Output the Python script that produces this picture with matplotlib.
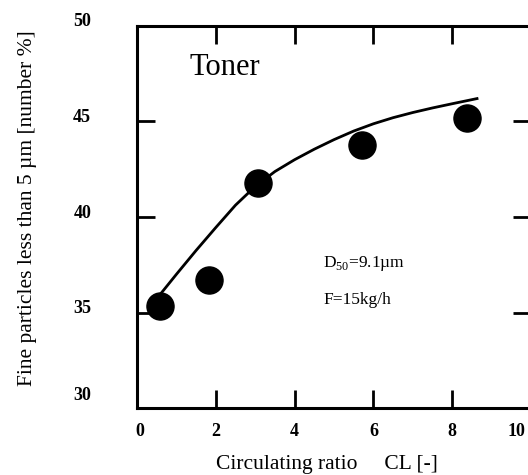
import matplotlib
matplotlib.use("Agg")
import matplotlib.pyplot as plt
import matplotlib.transforms as mtransforms

plt.rcParams['font.family'] = ['Liberation Serif', 'DejaVu Serif']
plt.rcParams['mathtext.fontset'] = 'custom'
plt.rcParams['mathtext.rm'] = 'Liberation Serif'

# measured points
cl = [0.58, 1.83, 3.07, 5.71, 8.38]
fine = [35.34, 36.70, 41.78, 43.77, 45.18]

# fitted curve
curve_x = [0.55, 1.0, 1.5, 2.0, 2.5, 3.0, 3.5, 4.0, 4.5, 5.0, 5.5, 6.0, 6.5, 7.0, 7.5, 8.0, 8.63]
curve_y = [35.85, 37.0, 38.25, 39.45, 40.62, 41.6, 42.38, 43.0, 43.55, 44.05, 44.5, 44.88,
           45.2, 45.47, 45.71, 45.93, 46.2]

xticks = [0, 2, 4, 6, 8, 10]
yticks = [30, 35, 40, 45, 50]

fig = plt.figure(figsize=(5.28, 4.75), dpi=100)
ax = fig.add_axes([137/528, (475-408)/475, 394/528, 382/475])

ax.plot(curve_x, curve_y, color='black', lw=2.0, zorder=2, solid_joinstyle='round')
ax.plot(cl, fine, 'o', color='black', markersize=19.5, zorder=3)

ax.set_xlim(0, 10)
ax.set_ylim(30, 50)
ax.set_xticks(xticks)
ax.set_yticks(yticks)
ax.set_xticklabels([str(t) for t in xticks], fontsize=13, fontweight='bold')
ax.set_yticklabels([str(t) for t in yticks], fontsize=13, fontweight='bold')
ax.tick_params(direction='in', length=13, width=2, top=True, right=True)
ax.tick_params(axis='x', pad=11)
ax.tick_params(axis='y', pad=33)
for s in ax.spines.values():
    s.set_linewidth(2.2)

# label offsets to mimic the reference
for lab in ax.get_yticklabels():
    dy = 6/100
    if lab.get_text() == '30':
        dy = 14/100
    lab.set_transform(lab.get_transform() + mtransforms.ScaledTranslation(0, dy, fig.dpi_scale_trans))
for lab in ax.get_xticklabels():
    dx = 0
    if lab.get_text() == '10':
        dx = -15/100
    elif lab.get_text() == '0':
        dx = 3/100
    lab.set_transform(lab.get_transform() + mtransforms.ScaledTranslation(dx, 0, fig.dpi_scale_trans))

ax.text(1.32, 47.43, 'Toner', fontsize=22, va='baseline', ha='left')
ax.text(4.72, 37.38, r'D$_{\mathrm{50}}$=9.1µm', fontsize=12.5, va='baseline', ha='left')
ax.text(4.72, 35.44, 'F=15kg/h', fontsize=12.5, va='baseline', ha='left')

fig.text(327/528, 1 - 464/475, 'Circulating ratio     CL [-]', fontsize=15.5, ha='center', va='center')
fig.text(28/528, 1 - 208/475, 'Fine particles less than 5 µm [number %]', fontsize=15.5,
         ha='center', va='center', rotation=90)

fig.savefig('out.png', dpi=100)
